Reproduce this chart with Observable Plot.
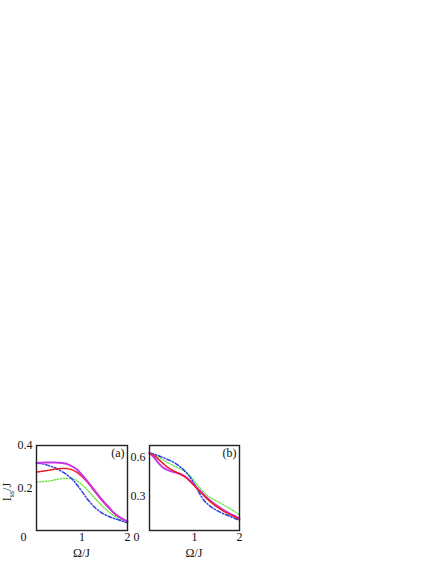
<!DOCTYPE html>
<html><head><meta charset="utf-8">
<script src="https://cdn.jsdelivr.net/npm/d3@7"></script>
<script src="https://cdn.jsdelivr.net/npm/@observablehq/plot@0.6"></script>
<style>
body{margin:0;background:#fff;width:436px;height:564px;position:relative;overflow:hidden;font-family:"Liberation Serif",serif}
.panel{position:absolute}
</style></head>
<body>
<div id="pa" class="panel" style="left:0px;top:435px"></div>
<div id="pb" class="panel" style="left:113px;top:435px"></div>
<script>
// ---- data ----
const omega = [0,0.1,0.2,0.3,0.4,0.5,0.6,0.7,0.8,0.9,1.0,1.1,1.2,1.3,1.4,1.5,1.6,1.7,1.8,1.9,2.0];

// panel (a)
const magentaA = [0.318,0.319,0.320,0.320,0.320,0.319,0.316,0.310,0.300,0.285,0.262,0.237,0.210,0.182,0.155,0.130,0.107,0.082,0.066,0.054,0.043];
const redA     = [0.275,0.278,0.281,0.285,0.288,0.291,0.292,0.290,0.284,0.272,0.254,0.232,0.206,0.178,0.151,0.126,0.104,0.084,0.067,0.053,0.042];
const blueA    = [0.318,0.315,0.310,0.303,0.295,0.285,0.272,0.257,0.238,0.212,0.183,0.153,0.127,0.105,0.088,0.075,0.065,0.057,0.050,0.043,0.037];
const greenA   = [0.228,0.229,0.231,0.234,0.238,0.242,0.245,0.246,0.243,0.233,0.216,0.195,0.172,0.148,0.125,0.104,0.086,0.070,0.056,0.043,0.032];

// panel (b)
const magentaB = [0.632,0.600,0.555,0.522,0.503,0.490,0.482,0.470,0.450,0.420,0.385,0.350,0.316,0.283,0.254,0.228,0.205,0.185,0.166,0.150,0.133];
const redB     = [0.632,0.615,0.585,0.553,0.525,0.503,0.485,0.467,0.446,0.417,0.381,0.344,0.309,0.276,0.247,0.221,0.198,0.178,0.160,0.143,0.127];
const blueB    = [0.632,0.625,0.612,0.598,0.583,0.568,0.548,0.522,0.490,0.448,0.395,0.330,0.275,0.240,0.213,0.192,0.175,0.160,0.146,0.132,0.118];
const greenB   = [0.632,0.618,0.600,0.580,0.560,0.542,0.525,0.508,0.488,0.458,0.418,0.372,0.335,0.305,0.282,0.264,0.245,0.225,0.205,0.183,0.160];

const xTicks = [0, 1, 2];
const yTicksA = [0.2, 0.4];
const yTicksB = [0.3, 0.6];
const panelLabels = ["(a)", "(b)"];
const xTitle = "Ω/J";

// ---- styles ----
const styleOf = {
  green:   {stroke: "#5fe83a", strokeWidth: 1.3, strokeDasharray: "1.4,1.6"},
  blue:    {stroke: "#2a3fe6", strokeWidth: 1.5, strokeDasharray: "4,2,1.2,2"},
  magenta: {stroke: "#cc33e8", strokeWidth: 2.0, strokeDasharray: null},
  red:     {stroke: "#ee1c1c", strokeWidth: 1.5, strokeDasharray: "4,1.2"}
};
const font = {fontFamily: "'Liberation Serif', serif", fontSize: "12px", color: "#111", background: "transparent", overflow: "visible"};

function rows(ys) { return omega.map((x, i) => ({x, y: ys[i]})); }

function panel(series, yDomain, yTicks, label, opts) {
  const marks = [];
  for (const [name, ys] of series) {
    const s = styleOf[name];
    marks.push(Plot.line(rows(ys), {x: "x", y: "y", stroke: s.stroke, strokeWidth: s.strokeWidth,
      strokeDasharray: s.strokeDasharray, curve: "catmull-rom"}));
  }
  marks.push(
    Plot.frame({stroke: "#222", strokeWidth: 1.4}),
    Plot.axisX(xTicks.filter(d => d > 0), {anchor: "bottom", label: null, tickSize: 0, tickPadding: 2, tickFormat: d => String(d), fontSize: 12}),
    Plot.axisX([0], {anchor: "bottom", label: null, tickSize: 0, tickPadding: 2, dx: -13, tickFormat: d => String(d), fontSize: 12}),
    Plot.axisY(yTicks, {anchor: "left", label: null, tickSize: 0, tickPadding: 4, tickFormat: d => d.toFixed(1), fontSize: 12}),
    Plot.text([label], {text: d => d, frameAnchor: "top-right", dx: -3, dy: 3, fontSize: 12, lineAnchor: "top"})
  );
  return Plot.plot({
    width: opts.width, height: 129,
    marginLeft: 36, marginRight: opts.marginRight, marginTop: 10, marginBottom: 34,
    style: font,
    x: {domain: [0, 2], axis: null},
    y: {domain: yDomain, axis: null},
    marks
  });
}

function addXTitle(plot) {
  const sx = plot.scale("x");
  d3.select(plot).append("text")
    .attr("x", sx.apply(1)).attr("y", 122)
    .attr("text-anchor", "middle")
    .attr("font-size", 12).attr("fill", "#111")
    .text(xTitle);
}

const plotA = panel([["green", greenA], ["blue", blueA], ["red", redA], ["magenta", magentaA]],
  [0, 0.4], yTicksA, panelLabels[0], {width: 130, marginRight: 3});
addXTitle(plotA);
// y-axis title with subscript
const yt = d3.select(plotA).append("text")
  .attr("transform", "translate(11,57) rotate(-90)")
  .attr("text-anchor", "middle").attr("font-size", 12).attr("fill", "#111");
yt.append("tspan").text("I");
yt.append("tspan").attr("font-size", 8).attr("dy", 3).text("ss");
yt.append("tspan").attr("dy", -3).text("/J");
document.getElementById("pa").append(plotA);

const plotB = panel([["green", greenB], ["blue", blueB], ["magenta", magentaB], ["red", redB]],
  [0.04, 0.69], yTicksB, panelLabels[1], {width: 127, marginRight: 1});
addXTitle(plotB);
document.getElementById("pb").append(plotB);
</script>
</body></html>
